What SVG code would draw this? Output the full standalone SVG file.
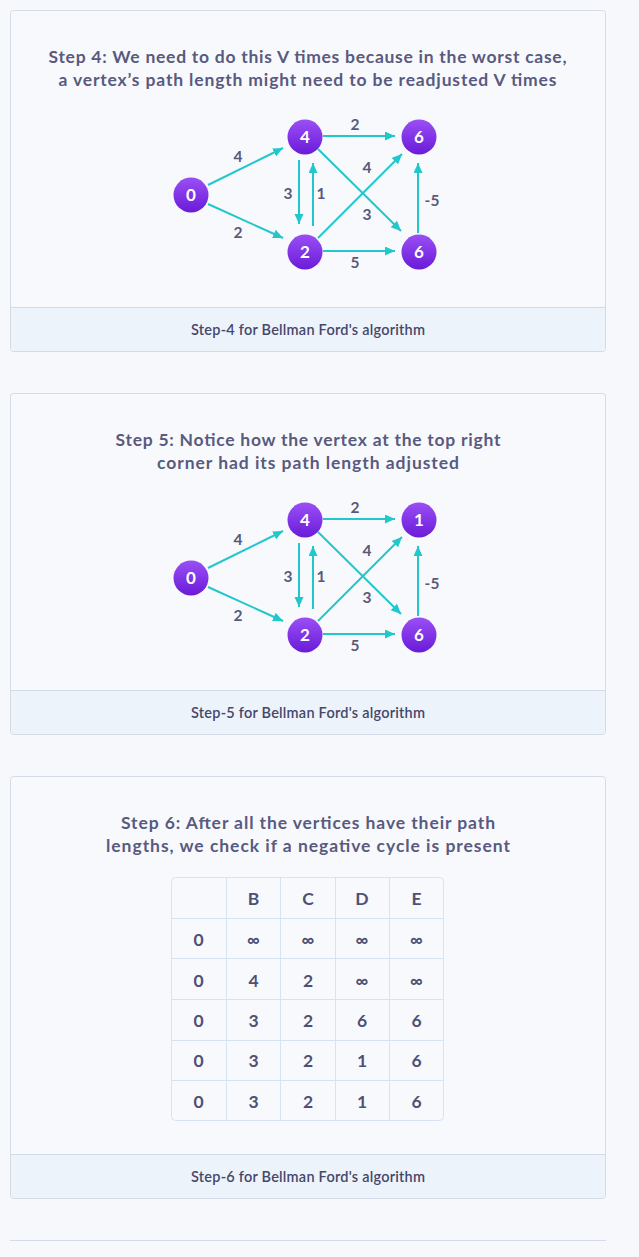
<svg xmlns="http://www.w3.org/2000/svg" width="639" height="1257" viewBox="0 0 639 1257">
<style>
.bg{fill:#f7f8fb}
.card{fill:#f8f9fc;stroke:#d3dbe7;stroke-width:1}
.band{fill:#edf3fb}
.sep{stroke:#d3dbe7;stroke-width:1}
.title{font-family:Lato,"Noto Sans",sans-serif;font-weight:bold;font-size:17.5px;fill:#585a80;text-anchor:middle}
.cap{font-family:Lato,"Noto Sans",sans-serif;font-weight:600;font-size:14.5px;fill:#45476b;text-anchor:middle}
.edge{stroke:#22c7cc;stroke-width:2;fill:none;marker-end:url(#ah)}
.nd{fill:url(#ng)}
.nt{font-family:Lato,"Noto Sans",sans-serif;font-weight:bold;font-size:17px;fill:#ffffff;text-anchor:middle}
.lb{font-family:Lato,"Noto Sans",sans-serif;font-weight:bold;font-size:15.5px;fill:#585a7a;text-anchor:middle}
.tb{fill:#f8f9fd;stroke:#d6e3f5;stroke-width:1}
.tl{stroke:#d6e3f5;stroke-width:1}
.tt{font-family:Lato,"Noto Sans",sans-serif;font-weight:bold;font-size:17.5px;fill:#4f5174;text-anchor:middle}
</style>
<defs>
<linearGradient id="ng" x1="0" y1="0" x2="0" y2="1">
<stop offset="0" stop-color="#9a4ff5"/>
<stop offset="1" stop-color="#6a1bd8"/>
</linearGradient>
<marker id="ah" markerUnits="userSpaceOnUse" markerWidth="11" markerHeight="10" refX="10" refY="4.5" orient="auto">
<path d="M0,0 L10,4.5 L0,9 z" fill="#22c7cc"/>
</marker>
</defs>
<rect class="bg" x="0" y="0" width="639" height="1257"/>

<!-- Card 1 -->
<g id="card1">
<rect class="card" x="10.5" y="10.5" width="595" height="341" rx="3"/>
<path class="band" d="M11,307.5 H605 V348 a3,3 0 0 1 -3,3 H14 a3,3 0 0 1 -3,-3 z"/>
<line class="sep" x1="11" y1="307.5" x2="605" y2="307.5"/>
<text class="title" x="307.5" y="62.5" textLength="518">Step 4: We need to do this V times because in the worst case,</text>
<text class="title" x="307.5" y="86" textLength="498">a vertex’s path length might need to be readjusted V times</text>
<text class="cap" x="308" y="335" textLength="234">Step-4 for Bellman Ford's algorithm</text>
</g>
<g id="graph1">
<g id="g1-edges">
<line class="edge" x1="208" y1="185" x2="283" y2="148"/>
<line class="edge" x1="208" y1="204" x2="283" y2="238"/>
<line class="edge" x1="323" y1="136" x2="395" y2="136"/>
<line class="edge" x1="323" y1="251" x2="395" y2="251"/>
<line class="edge" x1="299" y1="160" x2="299" y2="224"/>
<line class="edge" x1="313" y1="226" x2="313" y2="163"/>
<line class="edge" x1="318" y1="149" x2="401" y2="231"/>
<line class="edge" x1="318" y1="238" x2="402" y2="154"/>
<line class="edge" x1="418" y1="233" x2="418" y2="163"/>
<text class="lb" x="238" y="162">4</text>
<text class="lb" x="238" y="238">2</text>
<text class="lb" x="355" y="130">2</text>
<text class="lb" x="355" y="268">5</text>
<text class="lb" x="288" y="199">3</text>
<text class="lb" x="321" y="199">1</text>
<text class="lb" x="367" y="173">4</text>
<text class="lb" x="367" y="220">3</text>
<text class="lb" x="432" y="206">-5</text>
</g>
<g id="g1-n0"><circle class="nd" cx="191" cy="195" r="17.5"/><text class="nt" x="191" y="201">0</text></g>
<g id="g1-n4"><circle class="nd" cx="305" cy="137" r="17.5"/><text class="nt" x="305" y="143">4</text></g>
<g id="g1-ntr"><circle class="nd" cx="419" cy="137" r="17.5"/><text class="nt" x="419" y="143">6</text></g>
<g id="g1-n2"><circle class="nd" cx="305" cy="252" r="17.5"/><text class="nt" x="305" y="258">2</text></g>
<g id="g1-nbr"><circle class="nd" cx="419" cy="252" r="17.5"/><text class="nt" x="419" y="258">6</text></g>
</g>

<!-- Card 2 -->
<g id="card2">
<rect class="card" x="10.5" y="393.5" width="595" height="341" rx="3"/>
<path class="band" d="M11,690.5 H605 V731 a3,3 0 0 1 -3,3 H14 a3,3 0 0 1 -3,-3 z"/>
<line class="sep" x1="11" y1="690.5" x2="605" y2="690.5"/>
<text class="title" x="308" y="445.5" textLength="385">Step 5: Notice how the vertex at the top right</text>
<text class="title" x="308" y="469" textLength="302">corner had its path length adjusted</text>
<text class="cap" x="308" y="718" textLength="234">Step-5 for Bellman Ford's algorithm</text>
</g>
<g id="graph2" transform="translate(0,383)">
<g id="g2-edges">
<line class="edge" x1="208" y1="185" x2="283" y2="148"/>
<line class="edge" x1="208" y1="204" x2="283" y2="238"/>
<line class="edge" x1="323" y1="136" x2="395" y2="136"/>
<line class="edge" x1="323" y1="251" x2="395" y2="251"/>
<line class="edge" x1="299" y1="160" x2="299" y2="224"/>
<line class="edge" x1="313" y1="226" x2="313" y2="163"/>
<line class="edge" x1="318" y1="149" x2="401" y2="231"/>
<line class="edge" x1="318" y1="238" x2="402" y2="154"/>
<line class="edge" x1="418" y1="233" x2="418" y2="163"/>
<text class="lb" x="238" y="162">4</text>
<text class="lb" x="238" y="238">2</text>
<text class="lb" x="355" y="130">2</text>
<text class="lb" x="355" y="268">5</text>
<text class="lb" x="288" y="199">3</text>
<text class="lb" x="321" y="199">1</text>
<text class="lb" x="367" y="173">4</text>
<text class="lb" x="367" y="220">3</text>
<text class="lb" x="432" y="206">-5</text>
</g>
<g id="g2-n0"><circle class="nd" cx="191" cy="195" r="17.5"/><text class="nt" x="191" y="201">0</text></g>
<g id="g2-n4"><circle class="nd" cx="305" cy="137" r="17.5"/><text class="nt" x="305" y="143">4</text></g>
<g id="g2-ntr"><circle class="nd" cx="419" cy="137" r="17.5"/><text class="nt" x="419" y="143">1</text></g>
<g id="g2-n2"><circle class="nd" cx="305" cy="252" r="17.5"/><text class="nt" x="305" y="258">2</text></g>
<g id="g2-nbr"><circle class="nd" cx="419" cy="252" r="17.5"/><text class="nt" x="419" y="258">6</text></g>
</g>

<!-- Card 3 -->
<g id="card3">
<rect class="card" x="10.5" y="776.5" width="595" height="422" rx="3"/>
<path class="band" d="M11,1154.5 H605 V1195 a3,3 0 0 1 -3,3 H14 a3,3 0 0 1 -3,-3 z"/>
<line class="sep" x1="11" y1="1154.5" x2="605" y2="1154.5"/>
<text class="title" x="308" y="828.5" textLength="374">Step 6: After all the vertices have their path</text>
<text class="title" x="308" y="852" textLength="404">lengths, we check if a negative cycle is present</text>
<text class="cap" x="308" y="1182" textLength="234">Step-6 for Bellman Ford's algorithm</text>
</g>
<g id="table">
<rect class="tb" x="171.5" y="877.5" width="272" height="243" rx="4"/>
<line class="tl" x1="226.5" y1="878" x2="226.5" y2="1120"/>
<line class="tl" x1="280.5" y1="878" x2="280.5" y2="1120"/>
<line class="tl" x1="335.5" y1="878" x2="335.5" y2="1120"/>
<line class="tl" x1="389.5" y1="878" x2="389.5" y2="1120"/>
<line class="tl" x1="172" y1="918.5" x2="443" y2="918.5"/>
<line class="tl" x1="172" y1="958.5" x2="443" y2="958.5"/>
<line class="tl" x1="172" y1="999.5" x2="443" y2="999.5"/>
<line class="tl" x1="172" y1="1040.5" x2="443" y2="1040.5"/>
<line class="tl" x1="172" y1="1080.5" x2="443" y2="1080.5"/>
<g>
<text class="tt" x="253.5" y="904.5">B</text><text class="tt" x="308" y="904.5">C</text><text class="tt" x="362" y="904.5">D</text><text class="tt" x="416.5" y="904.5">E</text>
<text class="tt" x="198.5" y="945.5">0</text><text class="tt" x="253.5" y="945.5">∞</text><text class="tt" x="308" y="945.5">∞</text><text class="tt" x="362" y="945.5">∞</text><text class="tt" x="416.5" y="945.5">∞</text>
<text class="tt" x="198.5" y="986.5">0</text><text class="tt" x="253.5" y="986.5">4</text><text class="tt" x="308" y="986.5">2</text><text class="tt" x="362" y="986.5">∞</text><text class="tt" x="416.5" y="986.5">∞</text>
<text class="tt" x="198.5" y="1026.5">0</text><text class="tt" x="253.5" y="1026.5">3</text><text class="tt" x="308" y="1026.5">2</text><text class="tt" x="362" y="1026.5">6</text><text class="tt" x="416.5" y="1026.5">6</text>
<text class="tt" x="198.5" y="1067">0</text><text class="tt" x="253.5" y="1067">3</text><text class="tt" x="308" y="1067">2</text><text class="tt" x="362" y="1067">1</text><text class="tt" x="416.5" y="1067">6</text>
<text class="tt" x="198.5" y="1108">0</text><text class="tt" x="253.5" y="1108">3</text><text class="tt" x="308" y="1108">2</text><text class="tt" x="362" y="1108">1</text><text class="tt" x="416.5" y="1108">6</text>
</g>
</g>
<line class="sep" x1="10" y1="1240.5" x2="606" y2="1240.5"/>
</svg>
